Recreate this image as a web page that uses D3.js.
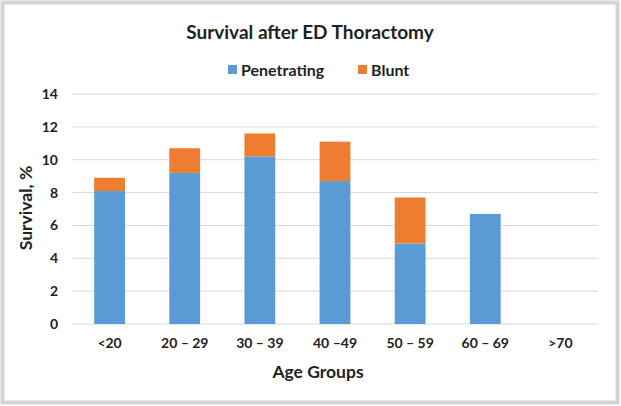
<!DOCTYPE html>
<html><head><meta charset="utf-8">
<script src="https://cdn.jsdelivr.net/npm/d3@7"></script>
<style>
body{margin:0;background:#fff;}
text{font-family:Lato,"Open Sans",sans-serif;font-weight:bold;fill:#222;}
</style></head>
<body><svg id="c" width="621" height="406"></svg>
<script>
const categories = ["<20","20 \u2013 29","30 \u2013 39","40 \u201349","50 \u2013 59","60 \u2013 69",">70"];
const penetrating = [8.1, 9.2, 10.2, 8.7, 4.9, 6.7, 0];
const blunt = [0.8, 1.5, 1.4, 2.4, 2.8, 0, 0];
const yTicks = [0,2,4,6,8,10,12,14];
const seriesNames = ["Penetrating","Blunt"];
const colors = ["#5b9bd5","#ed7d31"];

const svg = d3.select("#c");
svg.append("rect").attr("x",2.5).attr("y",2.5).attr("width",615).attr("height",400)
  .attr("fill","#fff").attr("stroke","#d4d4d4").attr("stroke-width",4);

const m = {l:72, r:598, t:94, b:324};
const x = d3.scaleBand().domain(categories).range([m.l,m.r]).paddingInner(0.59).paddingOuter(0.295);
const y = d3.scaleLinear().domain([0,14]).range([m.b,m.t]);

svg.append("g").selectAll("line").data(yTicks).join("line")
  .attr("x1",m.l).attr("x2",m.r).attr("y1",d=>y(d)).attr("y2",d=>y(d))
  .attr("stroke","#d9d9d9").attr("stroke-width",1);

const data = categories.map((c,i)=>({cat:c, Penetrating:penetrating[i], Blunt:blunt[i]}));
const stacked = d3.stack().keys(seriesNames)(data);
svg.append("g").selectAll("g").data(stacked).join("g").attr("fill",(d,i)=>colors[i])
  .selectAll("rect").data(d=>d).join("rect")
  .attr("x",d=>x(d.data.cat)).attr("width",x.bandwidth())
  .attr("y",d=>y(d[1])).attr("height",d=>y(d[0])-y(d[1]));

const ya = svg.append("g").attr("transform",`translate(${m.l},0)`)
  .call(d3.axisLeft(y).tickValues(yTicks).tickSize(0).tickPadding(14));
ya.select(".domain").remove();
ya.selectAll("text").style("font-size","14px").style("font-family","Lato,'Open Sans',sans-serif").style("font-weight","bold").attr("fill","#222");

const xa = svg.append("g").attr("transform",`translate(0,${m.b})`)
  .call(d3.axisBottom(x).tickSize(0).tickPadding(14));
xa.select(".domain").remove();
xa.selectAll("text").style("font-size","14px").style("font-family","Lato,'Open Sans',sans-serif").style("font-weight","bold").attr("fill","#222");

svg.append("text").attr("x",310).attr("y",39).attr("text-anchor","middle").style("font-size","19px").text("Survival after ED Thoractomy");
svg.append("text").attr("x",318).attr("y",378).attr("text-anchor","middle").style("font-size","17.5px").text("Age Groups");
svg.append("text").attr("transform","translate(32,208) rotate(-90)").attr("text-anchor","middle").style("font-size","17.5px").text("Survival, %");

const lg = [{x:228},{x:358}];
seriesNames.forEach((n,i)=>{
  svg.append("rect").attr("x",lg[i].x).attr("y",65).attr("width",9).attr("height",9).attr("fill",colors[i]);
  svg.append("text").attr("x",lg[i].x+13).attr("y",76).style("font-size","16px").text(n);
});
</script></body></html>
